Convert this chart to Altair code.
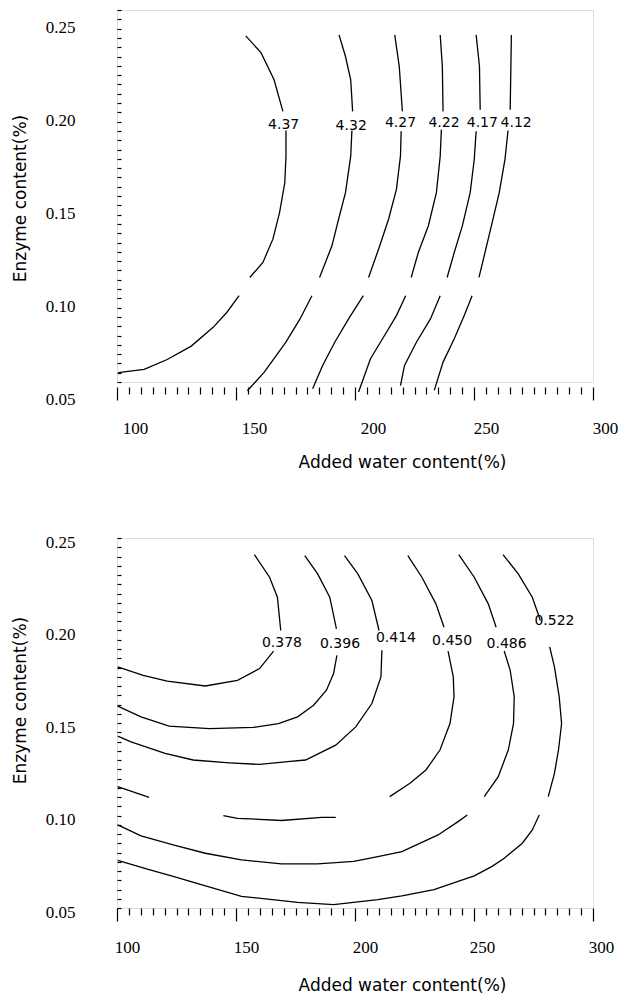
import altair as alt
import pandas as pd

# ---------------- top panel: contour levels 4.37 ... 4.12 ----------------
top_levels = ["4.37", "4.32", "4.27", "4.22", "4.17", "4.12"]

top_437_x = [[154.1, 160.5, 166.0, 169.7],
             [171.0, 171.0, 170.5, 168.3, 165.5, 161.3, 155.8],
             [151.3, 146.2, 140.4, 131.2, 121.1, 111.4, 100.5]]
top_437_y = [[0.2361, 0.2271, 0.2125, 0.1955],
             [0.1852, 0.1714, 0.1571, 0.1411, 0.1268, 0.1143, 0.1062],
             [0.0964, 0.0875, 0.0794, 0.0693, 0.0621, 0.0568, 0.0550]]

top_432_x = [[193.3, 196.0, 198.2, 199.0],
             [198.7, 198.2, 196.0, 193.1, 190.3, 185.1],
             [181.9, 176.9, 170.9, 161.8, 154.8]]
top_432_y = [[0.2366, 0.2250, 0.2125, 0.1955],
             [0.1852, 0.1714, 0.1518, 0.1375, 0.1232, 0.1062],
             [0.0964, 0.0839, 0.0713, 0.0552, 0.0453]]

top_427_x = [[216.7, 218.6, 219.9],
             [219.4, 219.1, 217.4, 214.1, 209.9, 205.7],
             [203.5, 197.3, 191.5, 186.4, 182.2]]
top_427_y = [[0.2366, 0.2196, 0.1955],
             [0.1848, 0.1714, 0.1536, 0.1375, 0.1214, 0.1062],
             [0.0964, 0.0839, 0.0714, 0.0589, 0.0464]]

top_422_x = [[235.8, 236.7, 237.0],
             [236.3, 235.8, 234.2, 230.8, 226.6, 223.6],
             [221.3, 217.4, 212.4, 206.5, 201.5]]
top_422_y = [[0.2366, 0.2196, 0.1955],
             [0.1857, 0.1714, 0.1518, 0.1339, 0.1196, 0.1062],
             [0.0964, 0.0857, 0.0750, 0.0625, 0.0446]]

top_417_x = [[250.9, 252.3, 252.6],
             [250.9, 250.1, 248.4, 245.1, 241.7, 238.7],
             [235.8, 231.7, 225.8, 220.8, 219.1]]
top_417_y = [[0.2366, 0.2196, 0.1964],
             [0.1848, 0.1696, 0.1518, 0.1339, 0.1196, 0.1062],
             [0.0964, 0.0839, 0.0714, 0.0589, 0.0480]]

top_412_x = [[265.7, 265.5, 265.2],
             [264.3, 263.0, 260.6, 257.3, 252.1],
             [249.2, 245.9, 241.7, 237.0, 233.3]]
top_412_y = [[0.2366, 0.2196, 0.1964],
             [0.1852, 0.1696, 0.1518, 0.1339, 0.1062],
             [0.0964, 0.0857, 0.0732, 0.0607, 0.0455]]

top_label_x = [170.0, 198.4, 219.1, 237.4, 253.5, 267.7]
top_label_y = [0.1884, 0.1875, 0.1890, 0.1893, 0.1893, 0.1893]

# ---------------- bottom panel: contour levels 0.378 ... 0.522 ----------------
bot_levels = ["0.378", "0.396", "0.414", "0.450", "0.486", "0.522"]

bot_378_x = [[157.7, 164.1, 167.4, 168.8],
             [165.8, 159.9, 150.6, 137.1, 121.1, 111.0, 100.3]]
bot_378_y = [[0.2410, 0.2288, 0.2180, 0.2000],
             [0.1889, 0.1794, 0.1731, 0.1700, 0.1726, 0.1758, 0.1803]]

bot_396_x = [[178.9, 184.3, 189.4, 192.2],
             [192.4, 191.0, 188.0, 182.6, 175.9, 167.8, 157.3, 138.8, 121.9, 110.1, 100.3]]
bot_396_y = [[0.2405, 0.2306, 0.2180, 0.2009],
             [0.1866, 0.1767, 0.1677, 0.1596, 0.1533, 0.1497, 0.1476, 0.1470, 0.1483, 0.1533, 0.1591]]

bot_414_x = [[195.6, 201.2, 207.1, 210.1],
             [211.3, 210.9, 207.1, 200.3, 191.9, 179.2, 171.7, 159.9, 147.2, 132.0, 120.2, 105.9, 100.3]]
bot_414_y = [[0.2405, 0.2306, 0.2162, 0.2000],
             [0.1893, 0.1749, 0.1605, 0.1479, 0.1380, 0.1300, 0.1291, 0.1276, 0.1285, 0.1300, 0.1336, 0.1398, 0.1429]]

bot_450_x = [[222.2, 228.1, 234.0, 237.4],
             [239.1, 241.3, 241.6, 239.9, 235.7, 229.8, 223.1, 214.6],
             [191.9, 186.0, 169.1, 150.6, 144.7],
             [113.5, 100.3]]
bot_450_y = [[0.2405, 0.2288, 0.2144, 0.2018],
             [0.1889, 0.1749, 0.1641, 0.1497, 0.1354, 0.1246, 0.1174, 0.1102],
             [0.0990, 0.0990, 0.0973, 0.0985, 0.0999],
             [0.1098, 0.1156]]

bot_486_x = [[243.6, 250.1, 256.0, 259.3],
             [262.7, 265.2, 266.9, 266.6, 264.4, 260.2, 254.3],
             [247.2, 243.3, 234.9, 219.7, 209.6, 199.5, 184.3, 169.1, 152.3, 137.1, 123.6, 110.1, 100.3]]
bot_486_y = [[0.2410, 0.2288, 0.2144, 0.2018],
             [0.1889, 0.1785, 0.1641, 0.1497, 0.1354, 0.1210, 0.1102],
             [0.1003, 0.0967, 0.0895, 0.0805, 0.0778, 0.0752, 0.0739, 0.0739, 0.0760, 0.0796, 0.0841, 0.0890, 0.0949]]

bot_522_x = [[262.2, 268.6, 274.5, 277.9],
             [281.8, 283.8, 285.8, 286.8, 285.5, 283.8, 281.2],
             [277.4, 274.5, 270.3, 262.7, 257.6, 250.1, 243.3, 233.2, 219.7, 209.6, 191.0, 175.9, 152.3, 135.4, 123.6, 113.5, 100.3]]
bot_522_y = [[0.2410, 0.2306, 0.2180, 0.2054],
             [0.1911, 0.1803, 0.1641, 0.1497, 0.1354, 0.1228, 0.1102],
             [0.1003, 0.0922, 0.0850, 0.0769, 0.0725, 0.0674, 0.0644, 0.0599, 0.0566, 0.0545, 0.0518, 0.0530, 0.0563, 0.0626, 0.0671, 0.0707, 0.0757]]

bot_label_x = [169.3, 193.7, 217.2, 240.8, 263.7, 283.8]
bot_label_y = [0.1934, 0.1929, 0.1961, 0.1943, 0.1929, 0.2054]

# axis tick values
x_major = [100, 150, 200, 250, 300]
x_ticks = list(range(100, 301, 5))
y_major = [0.05, 0.10, 0.15, 0.20, 0.25]
y_ticks = [round(0.05 + 0.005 * i, 3) for i in range(41)]

X_TITLE = "Added water content(%)"
Y_TITLE = "Enzyme content(%)"


def lines_frame(levels, xs_list, ys_list):
    rows = []
    for lvl, xs, ys in zip(levels, xs_list, ys_list):
        for s, (sx, sy) in enumerate(zip(xs, ys)):
            for i, (a, b) in enumerate(zip(sx, sy)):
                rows.append({"x": a, "y": b, "seg": f"{lvl}-{s}", "i": i})
    return pd.DataFrame(rows)


top_lines = lines_frame(top_levels,
                        [top_437_x, top_432_x, top_427_x, top_422_x, top_417_x, top_412_x],
                        [top_437_y, top_432_y, top_427_y, top_422_y, top_417_y, top_412_y])
bot_lines = lines_frame(bot_levels,
                        [bot_378_x, bot_396_x, bot_414_x, bot_450_x, bot_486_x, bot_522_x],
                        [bot_378_y, bot_396_y, bot_414_y, bot_450_y, bot_486_y, bot_522_y])
top_labels = pd.DataFrame({"x": top_label_x, "y": top_label_y, "t": top_levels})
bot_labels = pd.DataFrame({"x": bot_label_x, "y": bot_label_y, "t": bot_levels})

SERIF = "Liberation Serif"
SANS = "DejaVu Sans"

major_x_test = "indexof([" + ",".join(str(v) for v in x_major) + "], datum.value) >= 0"


def panel(lines_df, labels_df, height, x_offset, x_lab_pad, x_lab_off, x_lab_off_right,
          x_title_y, y_lab_base, y_lab_off, y_title_y):
    xs = alt.Scale(domain=[100, 300], nice=False, zero=False)
    ys = alt.Scale(domain=[0.05, 0.25], nice=False, zero=False)
    x_axis = alt.Axis(
        values=x_ticks,
        labelExpr=f"{major_x_test} ? datum.label : ''",
        format="d",
        offset=x_offset,
        domain=False,
        grid=False,
        tickColor="black",
        tickWidth=1.2,
        tickSize={"condition": {"test": major_x_test, "value": 13}, "value": 7},
        labelFont=SERIF,
        labelFontSize=17,
        labelColor="black",
        labelPadding=x_lab_pad,
        labelOffset={"condition": {"test": "datum.value >= 250", "value": x_lab_off_right},
                     "value": x_lab_off},
        labelFlush=False,
        labelOverlap=False,
        labelBound=False,
        title=X_TITLE,
        titleFont=SANS,
        titleFontSize=17,
        titleFontWeight="normal",
        titleColor="black",
        titleX=285,
        titleY=x_title_y,
        titleBaseline="middle",
        titleAlign="center",
    )
    y_axis = alt.Axis(
        values=y_ticks,
        labelExpr="abs(datum.value * 20 - round(datum.value * 20)) < 1e-6 ? format(datum.value, '.2f') : ''",
        offset=-4,
        domain=False,
        grid=False,
        tickColor="black",
        tickWidth=1.2,
        tickSize=4,
        labelFont=SERIF,
        labelFontSize=17,
        labelColor="black",
        labelPadding=42,
        labelBaseline=y_lab_base,
        labelOffset=y_lab_off,
        labelFlush=False,
        labelOverlap=False,
        labelBound=False,
        title=Y_TITLE,
        titleFont=SANS,
        titleFontSize=17,
        titleFontWeight="normal",
        titleColor="black",
        titlePadding=16,
        titleY=y_title_y,
        titleBaseline="bottom",
        titleAlign="center",
    )
    xenc = alt.X("x:Q", scale=xs, axis=x_axis)
    yenc = alt.Y("y:Q", scale=ys, axis=y_axis)
    lines = alt.Chart(lines_df).mark_line(color="black", strokeWidth=1.3).encode(
        x=xenc, y=yenc, detail="seg:N", order="i:Q",
    )
    texts = alt.Chart(labels_df).mark_text(font=SANS, fontSize=14, color="black").encode(
        x=xenc, y=yenc, text="t:N",
    )
    return alt.layer(lines, texts).properties(width=476, height=height)


top = panel(top_lines, top_labels, 372, 5, 20, 18, 12, 75, "top", 9, 188)
bottom = panel(bot_lines, bot_labels, 370, 0, 18, 10, 8, 77, "middle", 4, 162)

chart = alt.vconcat(top, bottom, spacing=61).properties(
    padding={"left": 2, "top": 0, "right": 0, "bottom": 0}
).configure_view(stroke="black", strokeWidth=1.6).configure(background="white")

chart.save("out.html", embed_options={"renderer": "svg", "actions": False})
